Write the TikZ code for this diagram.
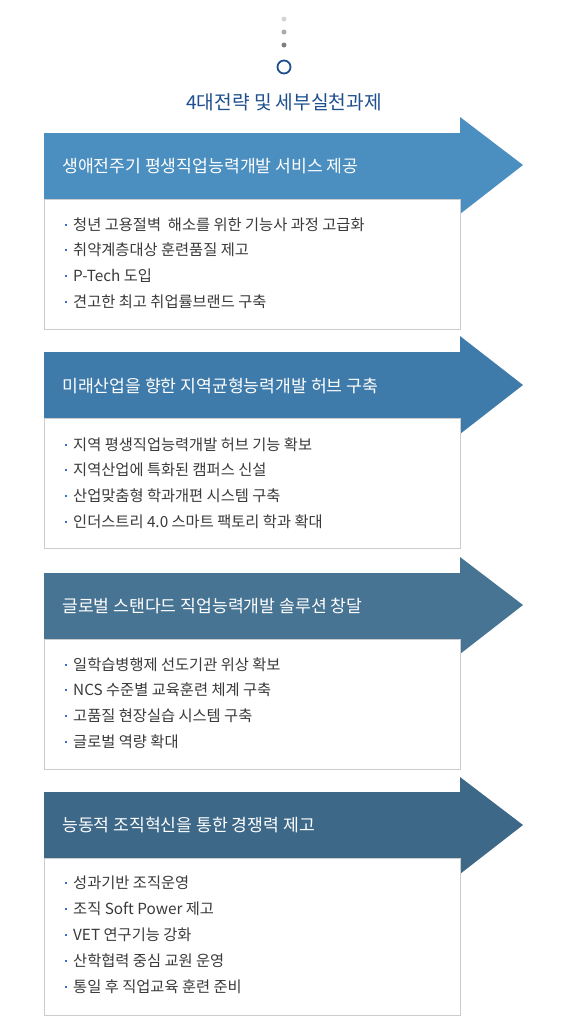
\documentclass[tikz,border=0pt]{standalone}
\usepackage{fontspec}
\usepackage{xcolor}
\usepackage{tikz}
\setmainfont{Noto Sans CJK KR}
\definecolor{stepone}{HTML}{4B8EC0}
\definecolor{steptwo}{HTML}{3F7BAA}
\definecolor{stepthree}{HTML}{487494}
\definecolor{stepfour}{HTML}{3D6888}
\definecolor{titleblue}{HTML}{1E4F8E}
\definecolor{itemgray}{HTML}{3A3A3A}
\definecolor{boxgray}{HTML}{CCCCCC}
\definecolor{dotblue}{HTML}{3A6FD0}

\begin{document}
\begin{tikzpicture}[x=1pt,y=-1pt,
      banner/.style={anchor=west,inner sep=0pt,text=white,
                     font=\fontsize{17.2}{20}\selectfont},
      item/.style={anchor=west,inner sep=0pt,text=itemgray,
                   font=\fontsize{15.3}{18}\selectfont,label distance=0pt,
                   label={[fill=dotblue,inner sep=0pt,minimum size=2.3pt,xshift=-6pt]left:{}}},
      listbox/.style={draw=boxgray,fill=white,line width=0.8pt}]
    \useasboundingbox (0,0) rectangle (566,1018);
    % top marker
    \fill[black!17] (284,19) circle (2.5);
    \fill[black!33] (284,32) circle (2.5);
    \fill[black!50] (284,45) circle (2.5);
    \draw[titleblue,line width=1.8pt] (284,67) circle (6.5);
    \node[text=titleblue,font=\fontsize{19.2}{22}\selectfont] (title) at(284,102){4대전략 및 세부실천과제};

    % strategy 1
    \fill[stepone] (44,133) -- (460,133) -- (460,117) -- (523,165) -- (460,214) -- (460,199) -- (44,199) -- cycle;
    \draw[listbox] (44,199) rectangle (460,329);
    \node[banner] (s1) at(62,166){생애전주기 평생직업능력개발 서비스 제공};
    \node[item] (s1a) at(73,225){청년 고용절벽\ \ 해소를 위한 기능사 과정 고급화};
    \node[item] (s1b) at(73,250){취약계층대상 훈련품질 제고};
    \node[item] (s1c) at(73,276){P-Tech 도입};
    \node[item] (s1d) at(73,302){견고한 최고 취업률브랜드 구축};

    % strategy 2
    \fill[steptwo] (44,352) -- (460,352) -- (460,336) -- (523,385) -- (460,434) -- (460,418) -- (44,418) -- cycle;
    \draw[listbox] (44,418) rectangle (460,548);
    \node[banner] (s2) at(62,386){미래산업을 향한 지역균형능력개발 허브 구축};
    \node[item] (s2a) at(73,445){지역 평생직업능력개발 허브 기능 확보};
    \node[item] (s2b) at(73,470){지역산업에 특화된 캠퍼스 신설};
    \node[item] (s2c) at(73,496){산업맞춤형 학과개편 시스템 구축};
    \node[item] (s2d) at(73,522){인더스트리 4.0 스마트 팩토리 학과 확대};

    % strategy 3
    \fill[stepthree] (44,573) -- (460,573) -- (460,557) -- (523,605) -- (460,654) -- (460,639) -- (44,639) -- cycle;
    \draw[listbox] (44,639) rectangle (460,769);
    \node[banner] (s3) at(62,606){글로벌 스탠다드 직업능력개발 솔루션 창달};
    \node[item] (s3a) at(73,665){일학습병행제 선도기관 위상 확보};
    \node[item] (s3b) at(73,690){NCS 수준별 교육훈련 체계 구축};
    \node[item] (s3c) at(73,716){고품질 현장실습 시스템 구축};
    \node[item] (s3d) at(73,742){글로벌 역량 확대};

    % strategy 4
    \fill[stepfour] (44,792) -- (460,792) -- (460,777) -- (523,825) -- (460,874) -- (460,858) -- (44,858) -- cycle;
    \draw[listbox] (44,858) rectangle (460,1015);
    \node[banner] (s4) at(62,825){능동적 조직혁신을 통한 경쟁력 제고};
    \node[item] (s4a) at(73,883){성과기반 조직운영};
    \node[item] (s4b) at(73,909){조직 Soft Power 제고};
    \node[item] (s4c) at(73,935){VET 연구기능 강화};
    \node[item] (s4d) at(73,961){산학협력 중심 교원 운영};
    \node[item] (s4e) at(73,987){통일 후 직업교육 훈련 준비};
  \end{tikzpicture}
\end{document}
